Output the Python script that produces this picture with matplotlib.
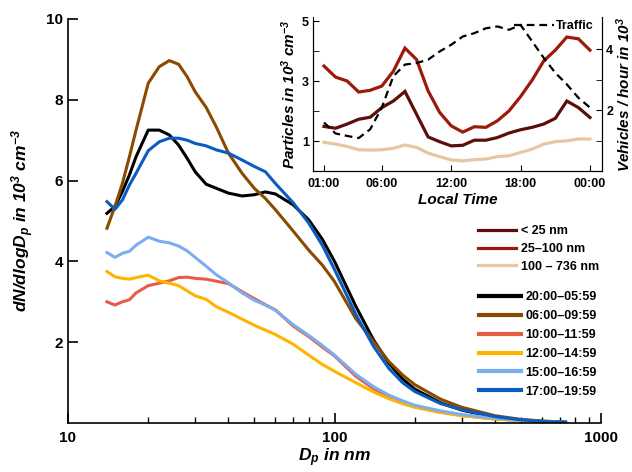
import numpy as np
import matplotlib
matplotlib.use("Agg")
import matplotlib.pyplot as plt
from matplotlib.ticker import FixedLocator, NullFormatter

plt.rcParams["font.family"] = ["Liberation Sans", "DejaVu Sans"]
plt.rcParams["font.weight"] = "bold"
plt.rcParams["axes.labelweight"] = "bold"
plt.rcParams["mathtext.fontset"] = "custom"
plt.rcParams["mathtext.rm"] = "Liberation Sans:bold:italic"
plt.rcParams["mathtext.it"] = "Liberation Sans:bold:italic"
plt.rcParams["mathtext.bf"] = "Liberation Sans:bold:italic"

# size distributions (dN/dlogDp, 10^3 cm^-3)
diam = [14, 15, 16, 17, 18, 20, 22, 24, 26, 28, 30, 33, 36, 40, 45, 50, 55, 60,
        70, 80, 90, 100, 120, 140, 160, 180, 200, 250, 300, 400, 500, 600, 736]
night = [5.19, 5.36, 5.73, 6.14, 6.59, 7.25, 7.25, 7.13, 6.88, 6.55, 6.22, 5.91, 5.81,
         5.69, 5.62, 5.65, 5.72, 5.67, 5.40, 5.03, 4.55, 4.00, 2.90, 2.06, 1.48, 1.09,
         0.84, 0.50, 0.32, 0.14, 0.07, 0.04, 0.02]
morning = [4.82, 5.36, 5.93, 6.59, 7.25, 8.41, 8.82, 8.97, 8.88, 8.57, 8.20, 7.81, 7.33,
           6.68, 6.18, 5.81, 5.56, 5.28, 4.75, 4.28, 3.91, 3.50, 2.59, 2.02, 1.52, 1.19,
           0.95, 0.59, 0.39, 0.18, 0.09, 0.05, 0.02]
late_morning = [3.00, 2.92, 3.00, 3.05, 3.22, 3.40, 3.46, 3.52, 3.60, 3.61, 3.58, 3.56,
                3.51, 3.45, 3.25, 3.08, 2.93, 2.80, 2.40, 2.14, 1.88, 1.66, 1.16, 0.85,
                0.64, 0.50, 0.40, 0.27, 0.19, 0.10, 0.06, 0.03, 0.01]
midday = [3.75, 3.62, 3.58, 3.56, 3.60, 3.66, 3.52, 3.46, 3.40, 3.27, 3.15, 3.06, 2.88,
          2.74, 2.57, 2.42, 2.30, 2.19, 1.95, 1.68, 1.45, 1.28, 1.00, 0.77, 0.60, 0.48,
          0.39, 0.26, 0.18, 0.10, 0.06, 0.03, 0.01]
afternoon = [4.22, 4.10, 4.20, 4.25, 4.40, 4.60, 4.50, 4.46, 4.38, 4.26, 4.10, 3.88, 3.67,
             3.47, 3.22, 3.04, 2.92, 2.79, 2.43, 2.17, 1.92, 1.68, 1.21, 0.90, 0.69, 0.55,
             0.44, 0.30, 0.21, 0.12, 0.07, 0.03, 0.01]
evening = [5.48, 5.29, 5.52, 5.89, 6.18, 6.74, 6.96, 7.05, 7.05, 7.00, 6.92, 6.86, 6.76,
           6.68, 6.51, 6.35, 6.22, 5.93, 5.45, 4.95, 4.40, 3.80, 2.70, 1.90, 1.35, 1.00,
           0.78, 0.48, 0.33, 0.16, 0.08, 0.04, 0.02]

period_labels = ["20:00\u201305:59", "06:00\u201309:59", "10:00\u201311:59",
                 "12:00\u201314:59", "15:00\u201316:59", "17:00\u201319:59"]
period_colors = ["#000000", "#8a4a00", "#e85c45", "#ffb400", "#7aaef0", "#0a5cbe"]

# diurnal cycle (inset)
hours = list(range(1, 25))
small = [1.49, 1.43, 1.57, 1.73, 1.80, 2.12, 2.34, 2.66, 1.90, 1.14, 0.98, 0.84,
         0.86, 1.03, 1.03, 1.12, 1.27, 1.38, 1.46, 1.57, 1.76, 2.34, 2.12, 1.79]
mid = [3.51, 3.14, 3.01, 2.64, 2.70, 2.84, 3.34, 4.11, 3.73, 2.68, 1.96, 1.51,
       1.30, 1.48, 1.46, 1.68, 2.01, 2.49, 3.04, 3.68, 4.04, 4.48, 4.42, 4.04]
large = [0.96, 0.90, 0.82, 0.71, 0.70, 0.71, 0.76, 0.87, 0.79, 0.60, 0.48, 0.37,
         0.34, 0.38, 0.40, 0.48, 0.51, 0.62, 0.73, 0.90, 0.98, 1.01, 1.07, 1.07]
traffic = [1.59, 1.23, 1.15, 1.08, 1.37, 2.08, 3.11, 3.49, 3.54, 3.65, 3.92, 4.14,
           4.41, 4.52, 4.68, 4.74, 4.63, 4.79, 4.25, 3.71, 3.22, 2.84, 2.40, 2.08]
size_labels = ["< 25 nm", "25\u2013100 nm", "100 \u2013 736 nm"]
size_colors = ["#5c0e0a", "#9b1a0c", "#e8c7a0"]
hour_ticks = [1, 6, 12, 18, 24]
hour_labels = ["01:00", "06:00", "12:00", "18:00", "00:00"]

fig = plt.figure(figsize=(6.32, 4.72), dpi=100)
ax = fig.add_axes([68 / 632, 49 / 472, 533 / 632, 404 / 472])

series = [night, morning, late_morning, midday, afternoon, evening]
period_lines = []
for vals, col in zip(series, period_colors):
    ln, = ax.plot(diam, vals, color=col, lw=2.2, solid_joinstyle="round")
    period_lines.append(ln)

ax.set_xscale("log")
ax.set_xlim(10, 1000)
ax.set_ylim(0, 10)
for s in ["top", "right"]:
    ax.spines[s].set_visible(False)
for s in ["left", "bottom"]:
    ax.spines[s].set_linewidth(1.2)
ax.xaxis.set_major_locator(FixedLocator([10, 100, 1000]))
ax.set_xticklabels(["10", "100", "1000"])
ax.xaxis.set_minor_locator(FixedLocator([20, 30, 40, 50, 60, 70, 80, 90,
                                         200, 300, 400, 500, 600, 700, 800, 900]))
ax.xaxis.set_minor_formatter(NullFormatter())
ax.set_yticks([2, 4, 6, 8, 10])
ax.tick_params(axis="both", which="major", direction="in", length=7, width=1.2,
               labelsize=11)
ax.tick_params(axis="x", which="major", pad=6)
ax.tick_params(axis="y", which="major", pad=3.5)
ax.tick_params(axis="x", which="minor", direction="in", length=4, width=1)
ax.set_xlabel("D$_p$ in nm", fontsize=12.5, fontstyle="italic", labelpad=1)
ax.set_ylabel("dN/dlogD$_p$ in 10$^3$ cm$^{-3}$", fontsize=12.5, fontstyle="italic",
              labelpad=7)

# inset: diurnal cycle
axi = fig.add_axes([313 / 632, 301 / 472, 289 / 632, 154 / 472])
axi.patch.set_alpha(0)
size_lines = []
for vals, col in zip([small, mid, large], size_colors):
    ln, = axi.plot(hours, vals, color=col, lw=2.3, solid_joinstyle="miter")
    size_lines.append(ln)
axi.set_xlim(0.05, 25.04)
axi.set_ylim(0, 5.15)
axi.spines["top"].set_visible(False)
axi.spines["left"].set_bounds(0, 5)
axi.set_xticks(hour_ticks)
axi.set_xticklabels(hour_labels)
axi.set_yticks([1, 3, 5])
axi.yaxis.set_minor_locator(FixedLocator([2, 4]))
axi.tick_params(axis="both", which="major", direction="in", length=4, labelsize=9)
axi.tick_params(axis="x", pad=5)
axi.tick_params(axis="y", pad=3)
axi.tick_params(axis="y", which="minor", direction="in", length=4)
axi.set_xlabel("Local Time", fontsize=11, fontstyle="italic", labelpad=2)
axi.set_ylabel("Particles in 10$^3$ cm$^{-3}$", fontsize=11, fontstyle="italic",
               labelpad=3)

axr = axi.twinx()
axr.spines["top"].set_visible(False)
tr, = axr.plot(hours, traffic, color="black", lw=1.6, dashes=[3.5, 2.2])
axr.set_ylim(0, 5.05)
axr.set_yticks([2, 4])
axr.yaxis.set_minor_locator(FixedLocator([1, 3]))
axr.tick_params(axis="y", which="both", direction="in", length=4, labelsize=9, pad=3)
axr.set_ylabel("Vehicles / hour in 10$^3$", fontsize=11, fontstyle="italic",
               labelpad=1)
axr.legend([tr], ["Traffic"], loc="upper right", bbox_to_anchor=(600 / 632, 458 / 472),
           bbox_transform=fig.transFigure, frameon=False, borderpad=0,
           handlelength=3.2, handletextpad=0.2, fontsize=9)

# legends in main panel
leg1 = ax.legend(size_lines, size_labels, loc="upper left",
                 bbox_to_anchor=(472 / 632, 253 / 472), bbox_transform=fig.transFigure,
                 frameon=False, borderpad=0, handlelength=3.0, handletextpad=0.4,
                 labelspacing=0.45, fontsize=9)
ax.add_artist(leg1)
leg2 = ax.legend(period_lines, period_labels, loc="upper left",
                 bbox_to_anchor=(473 / 632, 187 / 472), bbox_transform=fig.transFigure,
                 frameon=False, borderpad=0, handlelength=3.3, handletextpad=0.4,
                 labelspacing=0.55, fontsize=9)
for h in leg2.legend_handles:
    h.set_linewidth(3)

fig.savefig("out.png", dpi=100)
